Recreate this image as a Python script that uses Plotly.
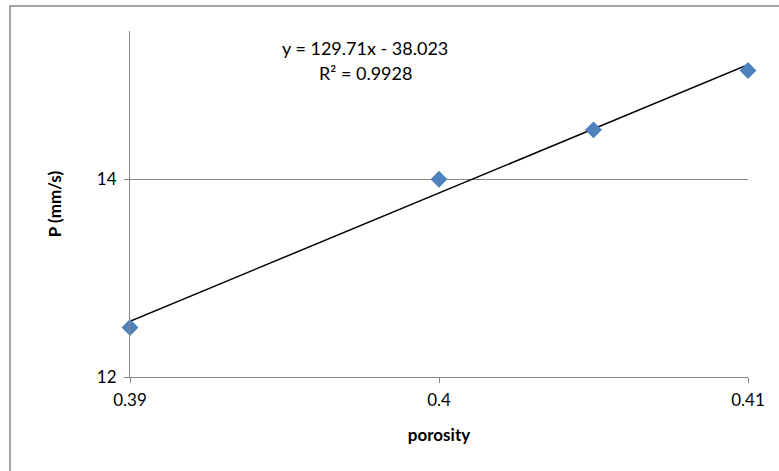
import plotly.graph_objects as go

porosity = [0.39, 0.40, 0.405, 0.41]
p_values = [12.5, 14.0, 14.5, 15.1]
slope = 129.71
intercept = -38.023
r_squared = 0.9928
x_ticks = [0.39, 0.40, 0.41]
x_tick_labels = ["0.39", "0.4", "0.41"]
y_ticks = [12, 14]

FONT = "Lato, Carlito, Calibri, sans-serif"
GRAY = "#868686"

L, R, T, B = 130, 31, 31, 94
PW = 779 - L - R
PH = 471 - T - B

trend_x = [min(porosity), max(porosity)]
trend_y = [slope * v + intercept for v in trend_x]

fig = go.Figure()
fig.add_trace(go.Scatter(x=trend_x, y=trend_y, mode="lines",
                         line=dict(color="black", width=1.5),
                         hoverinfo="skip", showlegend=False, cliponaxis=False))
fig.add_trace(go.Scatter(x=porosity, y=p_values, mode="markers",
                         marker=dict(symbol="diamond", size=13, color="#4F81BD",
                                     line=dict(width=0)),
                         showlegend=False, cliponaxis=False))

fig.update_layout(
    width=779, height=471,
    margin=dict(l=L, r=R, t=T, b=B),
    paper_bgcolor="white", plot_bgcolor="white",
    font=dict(family=FONT, size=17, color="black"),
    xaxis=dict(range=[0.39, 0.41], tickvals=x_ticks, ticktext=x_tick_labels,
               showgrid=False, zeroline=False, showline=True, linecolor=GRAY, linewidth=1,
               ticks="outside", ticklen=5, tickcolor=GRAY, ticklabelstandoff=3,
               title=dict(text="<b>porosity</b>", font=dict(size=17, family=FONT), standoff=19)),
    yaxis=dict(range=[12, 15.5], tickvals=y_ticks,
               showgrid=True, gridcolor=GRAY, gridwidth=1, zeroline=False,
               showline=True, linecolor=GRAY, linewidth=1,
               ticks="outside", ticklen=5, tickcolor=GRAY, ticklabelstandoff=4,
               title=dict(text="<b>P (mm/s)</b>", font=dict(size=17, family=FONT), standoff=30)),
    shapes=[dict(type="rect", xref="paper", yref="paper",
                 x0=(10 - L) / PW, x1=1.2, y0=-0.5, y1=(T + PH - 6) / PH,
                 line=dict(color=GRAY, width=1.5), fillcolor="rgba(0,0,0,0)", layer="below")],
    annotations=[
        dict(xref="paper", yref="paper", x=(365 - L) / PW, y=(T + PH - 48) / PH,
             text=f"y = {slope}x - {abs(intercept):.3f}", showarrow=False,
             font=dict(size=18, family=FONT), xanchor="center", yanchor="middle"),
        dict(xref="paper", yref="paper", x=(365 - L) / PW, y=(T + PH - 73) / PH,
             text=f"R² = {r_squared}", showarrow=False,
             font=dict(size=18, family=FONT), xanchor="center", yanchor="middle"),
    ],
)

fig.write_html("out.html", config={"displayModeBar": False},
               post_script="document.body.style.margin='0px';")
